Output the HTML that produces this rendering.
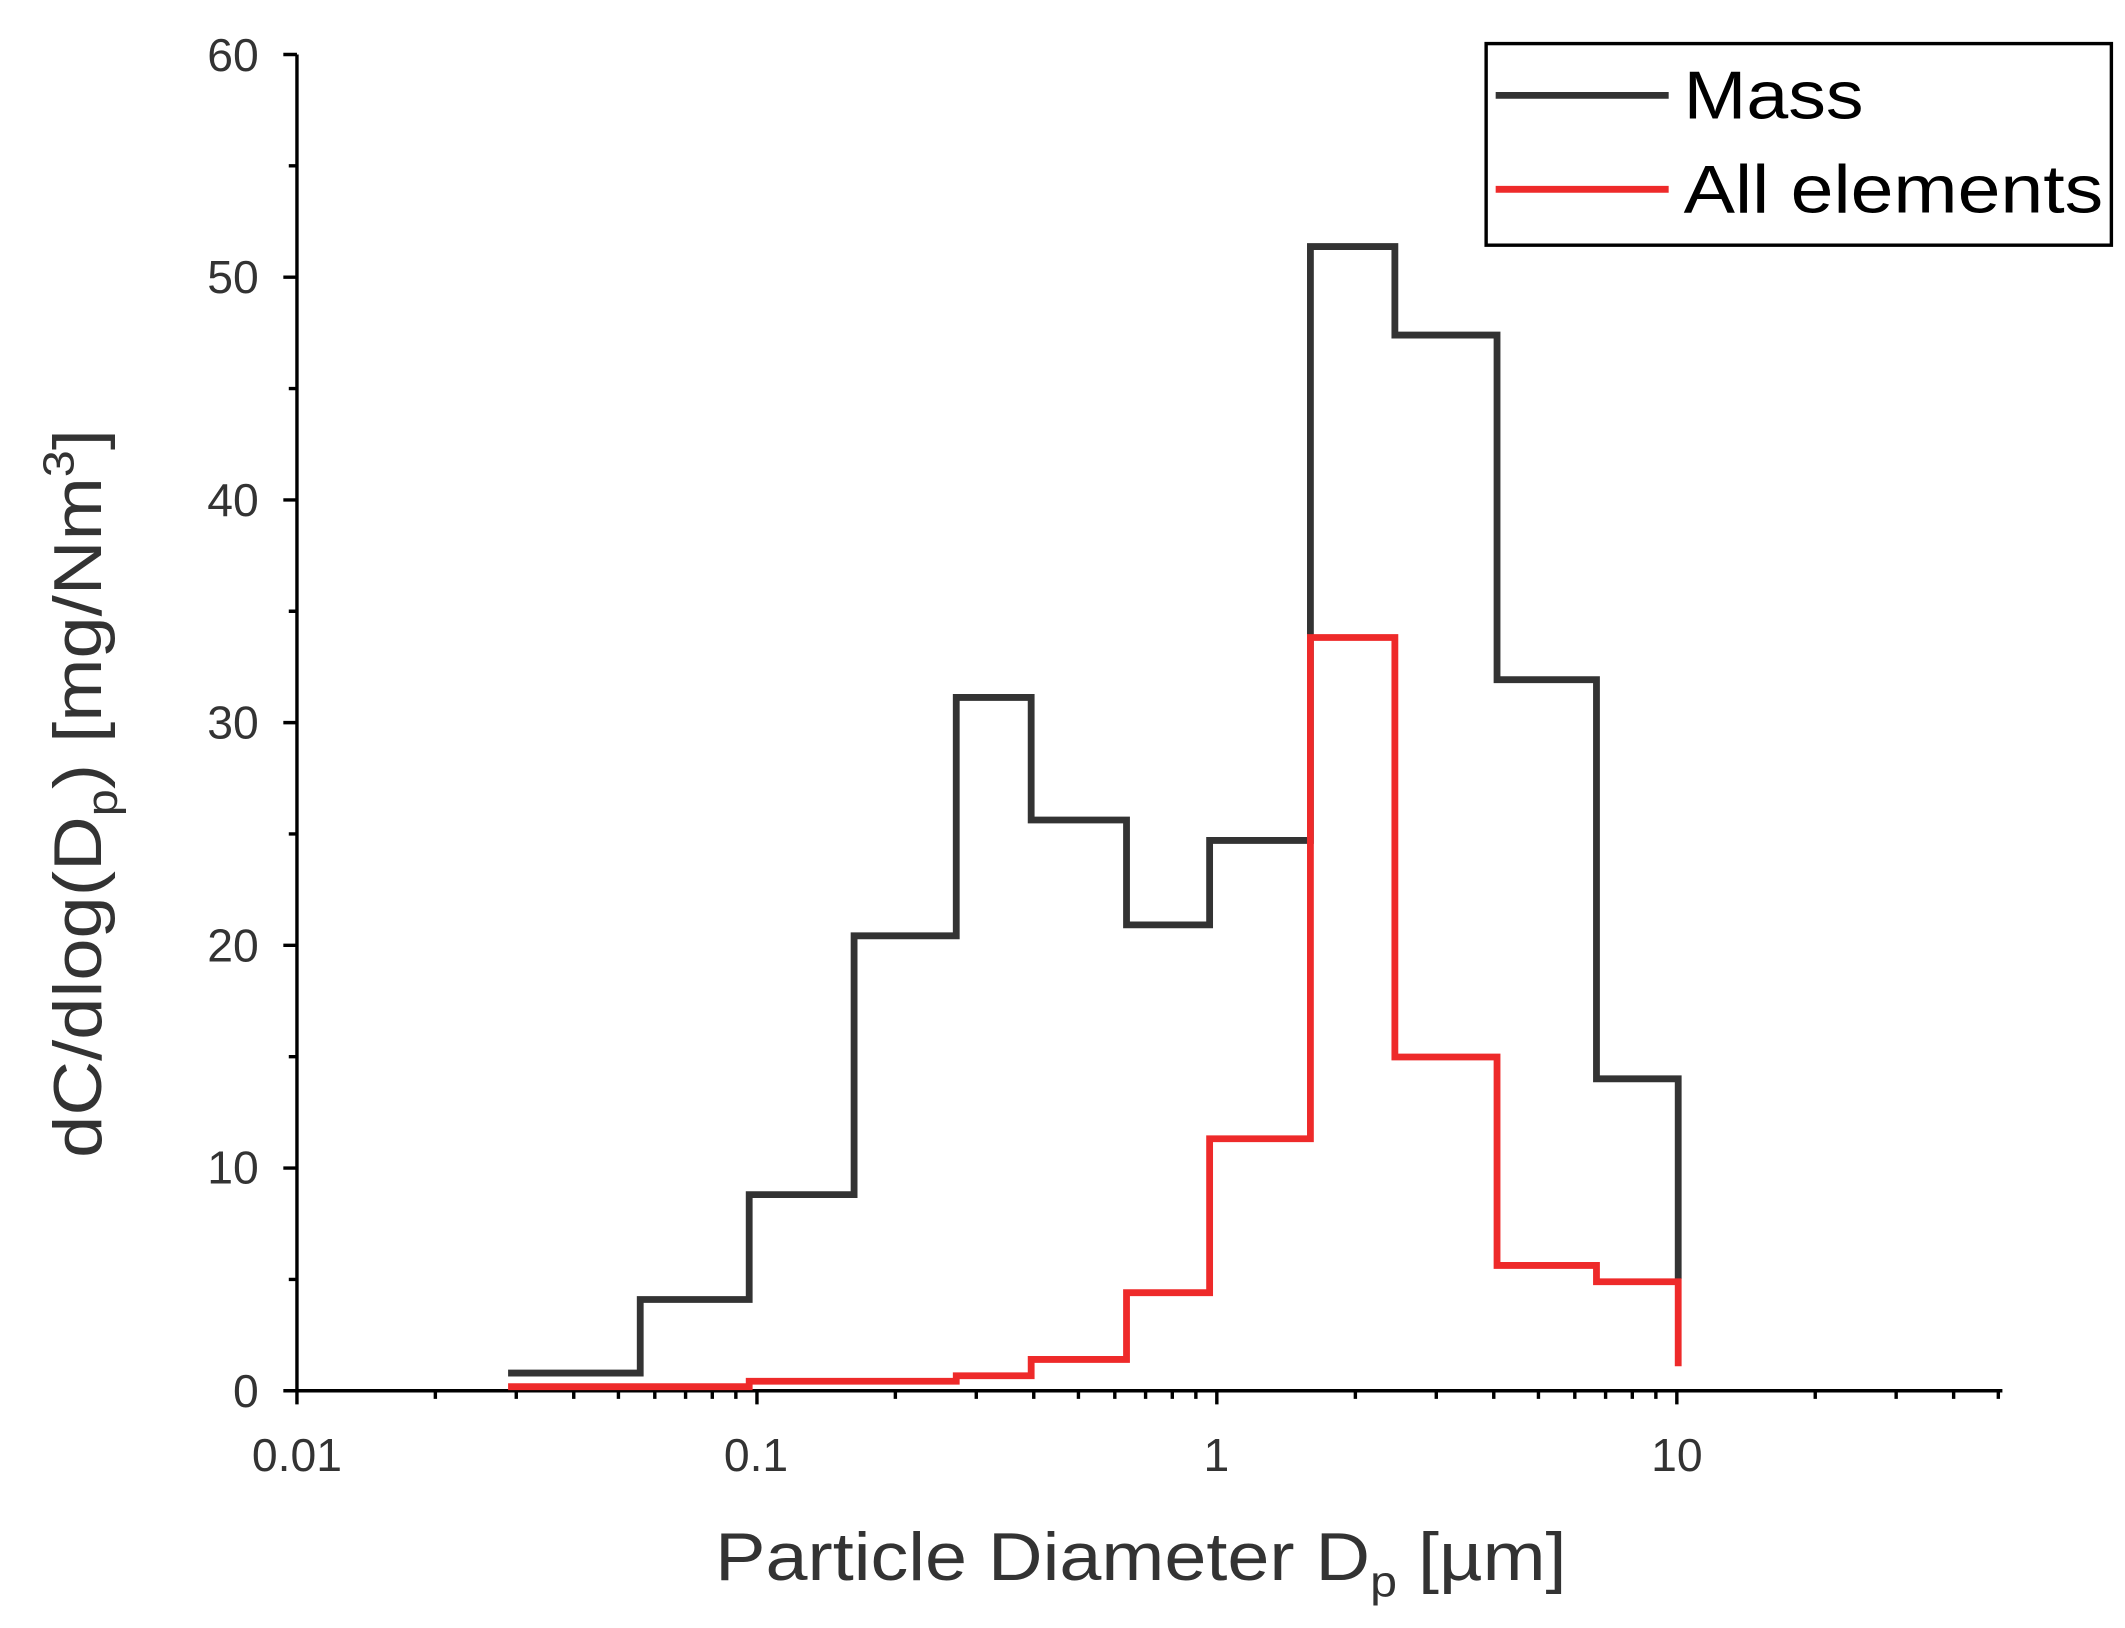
<!DOCTYPE html>
<html><head><style>html,body{margin:0;padding:0;background:#fff;overflow:hidden}</style></head>
<body>
<svg width="2125" height="1623" viewBox="0 0 1560 1191.5" preserveAspectRatio="none" xmlns="http://www.w3.org/2000/svg" font-family="Liberation Sans, sans-serif">
<rect width="1560" height="1192" fill="#fff"/>
<g stroke="#000" stroke-width="2.5" fill="none">
<line x1="218" y1="40" x2="218" y2="1022"/>
<line x1="217" y1="1021" x2="1470" y2="1021"/>
<path d="M218 40h-10M218 203.5h-10M218 367h-10M218 530.5h-10M218 694h-10M218 857.5h-10M218 1021h-10M218 121.75h-6M218 285.25h-6M218 448.75h-6M218 612.25h-6M218 775.75h-6M218 939.25h-6"/>
<path d="M218 1021v10M555.7 1021v10M893.3 1021v10M1231 1021v10"/>
<path d="M319.6 1021v6M379 1021v6M421.2 1021v6M454 1021v6M480.7 1021v6M503.3 1021v6M522.9 1021v6M540.2 1021v6
M657.3 1021v6M716.7 1021v6M758.9 1021v6M791.7 1021v6M818.4 1021v6M841 1021v6M860.6 1021v6M877.9 1021v6
M995 1021v6M1054.4 1021v6M1096.6 1021v6M1129.4 1021v6M1156.1 1021v6M1178.7 1021v6M1198.3 1021v6M1215.6 1021v6
M1332.6 1021v6M1392 1021v6M1434.2 1021v6M1467 1021v6"/>
</g>
<g font-size="34" fill="#333" text-anchor="end">
<text x="190" y="52">60</text><text x="190" y="215">50</text><text x="190" y="379">40</text>
<text x="190" y="542">30</text><text x="190" y="706">20</text><text x="190" y="869">10</text><text x="190" y="1033">0</text>
</g>
<g font-size="34" fill="#333" text-anchor="middle">
<text x="218" y="1080">0.01</text><text x="555" y="1080">0.1</text><text x="893" y="1080">1</text><text x="1231" y="1080">10</text>
</g>
<text x="525" y="1160" font-size="50" fill="#333" textLength="625" lengthAdjust="spacingAndGlyphs">Particle Diameter D<tspan font-size="32" dy="12">p</tspan><tspan dy="-12"> [µm]</tspan></text>
<text transform="translate(74,850) rotate(-90)" font-size="50" fill="#333" textLength="535" lengthAdjust="spacingAndGlyphs">dC/dlog(D<tspan font-size="32" dy="12">p</tspan><tspan dy="-12">) [mg/Nm</tspan><tspan font-size="32" dy="-20">3</tspan><tspan dy="20">]</tspan></text>
<path fill="none" stroke="#333" stroke-width="5" d="M373 1008H470V954H550V877H627V687H702V512H757V602H827V679H888V617H962V181H1024V246H1099V499H1172V792H1232V939"/>
<path fill="none" stroke="#ee2a2a" stroke-width="5" d="M373 1018H550V1014H702V1010H757V998H827V949H888V836H962V468H1024V776H1099V929H1172V941H1232V1003"/>
<rect x="1091" y="32" width="459" height="148" fill="#fff" stroke="#000" stroke-width="2.5"/>
<line x1="1098" y1="70" x2="1225" y2="70" stroke="#333" stroke-width="5"/>
<line x1="1098" y1="139" x2="1225" y2="139" stroke="#ee2a2a" stroke-width="5"/>
<text x="1236" y="87" font-size="50" fill="#000" textLength="132" lengthAdjust="spacingAndGlyphs">Mass</text>
<text x="1236" y="156" font-size="50" fill="#000" textLength="308" lengthAdjust="spacingAndGlyphs">All elements</text>
</svg>
</body></html>
